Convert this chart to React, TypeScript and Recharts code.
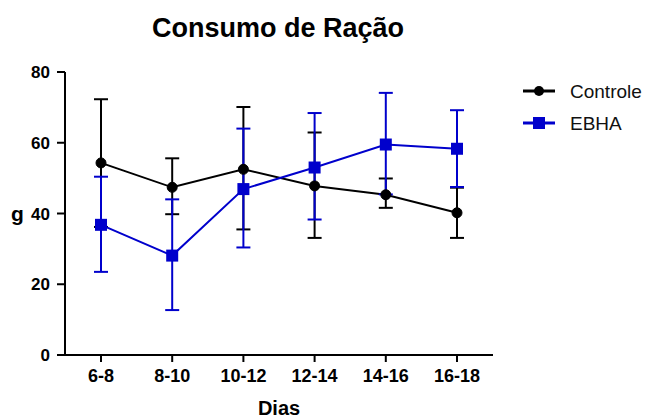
import React from 'react';
import { LineChart, Line, XAxis, YAxis, ErrorBar, Legend } from 'recharts';

const days = ['6-8', '8-10', '10-12', '12-14', '14-16', '16-18'];
const controleMean = [54.3, 47.4, 52.5, 47.8, 45.3, 40.2];
const controleLow = [18.1, 7.6, 17.0, 14.7, 3.7, 7.1];
const controleHigh = [18.0, 8.2, 17.6, 15.1, 4.6, 7.1];
const ebhaMean = [36.8, 28.1, 46.9, 53.0, 59.5, 58.3];
const ebhaLow = [13.3, 15.4, 16.5, 14.7, 14.1, 10.8];
const ebhaHigh = [13.6, 15.9, 17.1, 15.4, 14.6, 10.9];
const yTicks = [0, 20, 40, 60, 80];

const BLUE = '#0000CC';
const FONT = 'Arial, "Liberation Sans", sans-serif';

const data = days.map((d, i) => ({
  day: d,
  controle: controleMean[i],
  controleErr: [controleLow[i], controleHigh[i]],
  ebha: ebhaMean[i],
  ebhaErr: [ebhaLow[i], ebhaHigh[i]],
}));

const SquareDot = (props: any) => {
  const { cx, cy } = props;
  if (cx == null || cy == null) return null;
  return <rect x={cx - 6} y={cy - 6} width={12} height={12} fill={BLUE} stroke="none" />;
};

const LegendContent = () => {
  const items = [
    { label: 'Controle', color: '#000', shape: 'circle' },
    { label: 'EBHA', color: BLUE, shape: 'square' },
  ];
  return (
    <svg width={140} height={70} style={{ overflow: 'visible' }}>
      {items.map((it, i) => {
        const y = 13 + i * 32;
        return (
          <g key={it.label}>
            <line x1={3} x2={35} y1={y} y2={y} stroke={it.color} strokeWidth={3} />
            {it.shape === 'circle' ? (
              <circle cx={19} cy={y} r={5} fill={it.color} />
            ) : (
              <rect x={13} y={y - 6} width={12} height={12} fill={it.color} />
            )}
            <text x={50} y={y} dy="0.35em" fontFamily={FONT} fontSize={19} fill="#111">
              {it.label}
            </text>
          </g>
        );
      })}
    </svg>
  );
};

export default function App() {
  return (
    <div style={{ position: 'absolute', left: 0, top: 0, width: 658, height: 419, background: '#fff' }}>
      <svg width={658} height={50} style={{ position: 'absolute', left: 0, top: 0 }}>
        <text x={278} y={37} textAnchor="middle" fontFamily={FONT} fontWeight="bold" fontSize={27} fill="#000">
          Consumo de Ração
        </text>
      </svg>
      <LineChart
        width={658}
        height={419}
        data={data}
        margin={{ top: 72, right: 165, bottom: 0, left: 0 }}
        style={{ position: 'absolute', left: 0, top: 0 }}
      >
        <XAxis
          dataKey="day"
          type="category"
          interval={0}
          height={64}
          padding={{ left: 36, right: 36 }}
          tickSize={7}
          tickMargin={7}
          axisLine={{ stroke: '#000', strokeWidth: 2 }}
          tickLine={{ stroke: '#000', strokeWidth: 2 }}
          tick={{ fill: '#000', fontSize: 18, fontWeight: 'bold', fontFamily: FONT }}
          label={{ value: 'Dias', position: 'insideBottom', offset: 4, fill: '#000', fontSize: 20, fontWeight: 'bold', fontFamily: FONT }}
        />
        <YAxis
          type="number"
          domain={[0, 80]}
          ticks={yTicks}
          width={65}
          tickSize={8}
          tickMargin={7}
          axisLine={{ stroke: '#000', strokeWidth: 2 }}
          tickLine={{ stroke: '#000', strokeWidth: 2 }}
          tick={{ fill: '#000', fontSize: 17, fontWeight: 'bold', fontFamily: FONT }}
          label={{ value: 'g', angle: 0, position: 'insideLeft', offset: 11, fill: '#000', fontSize: 21, fontWeight: 'bold', fontFamily: FONT }}
        />
        <Legend
          layout="horizontal"
          verticalAlign="middle"
          align="center"
          content={<LegendContent />}
          wrapperStyle={{ position: 'absolute', left: 520, top: 78, width: 140, height: 70 }}
        />
        <Line
          dataKey="controle"
          name="Controle"
          stroke="#000"
          strokeWidth={2}
          dot={{ r: 5, fill: '#000', stroke: '#000', strokeWidth: 1 }}
          activeDot={false}
          isAnimationActive={false}
        >
          <ErrorBar dataKey="controleErr" width={7} stroke="#000" strokeWidth={2} direction="y" />
        </Line>
        <Line
          dataKey="ebha"
          name="EBHA"
          stroke={BLUE}
          strokeWidth={2}
          dot={<SquareDot />}
          activeDot={false}
          isAnimationActive={false}
        >
          <ErrorBar dataKey="ebhaErr" width={7} stroke={BLUE} strokeWidth={2} direction="y" />
        </Line>
      </LineChart>
    </div>
  );
}
